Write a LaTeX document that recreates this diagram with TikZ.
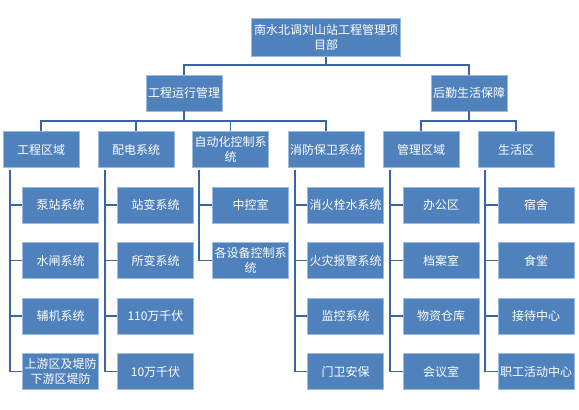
\documentclass[tikz,border=0pt]{standalone}
\usepackage{fontspec}
\newfontfamily\cjk{Noto Sans CJK SC}
\usetikzlibrary{calc,positioning}
\definecolor{boxblue}{RGB}{79,129,189}
\definecolor{boxedge}{RGB}{155,187,225}
\definecolor{linkblue}{RGB}{58,100,165}
\tikzset{
  box/.style  = {draw=boxedge, line width=0.6pt, fill=boxblue, text=white,
                 minimum width=57pt, minimum height=27pt, inner sep=1pt,
                 align=center, font=\cjk\fontsize{9}{11}\selectfont},
  wide/.style = {box, minimum width=112pt, minimum height=28pt},
  wire/.style = {draw=linkblue, line width=1.4pt},
}

\begin{document}
\begin{tikzpicture}[x=0.75pt,y=-0.75pt]
  \useasboundingbox (0,0) rectangle (579,410);
  % top and second level
  \node[wide] (xmb) at (326,37.5) {南水北调刘山站工程管理项\\目部};
  \node[box] (yxgl) at (184,93) {工程运行管理};
  \node[box] (hqbz) at (469,93) {后勤生活保障};
  % third level
  \node[box] (gcqy) at (41,149.5)    {工程区域};
  \node[box] (pdxt) at (136,149.5)   {配电系统};
  \node[box] (zdh)  at (230.5,149.5) {自动化控制系\\统};
  \node[box] (xfbw) at (326,149.5)   {消防保卫系统};
  \node[box] (glqy) at (421,149.5)   {管理区域};
  \node[box] (shq)  at (516,149.5)   {生活区};
  % fourth level
  \foreach \t [count=\i] in {泵站系统,水闸系统,辅机系统,{上游区及堤防\\下游区堤防}}
    \node[box] (gcqy\i) at (60.5,149.5+55.5*\i) {\t};
  \foreach \t [count=\i] in {站变系统,所变系统,110万千伏,10万千伏}
    \node[box] (pdxt\i) at (155.5,149.5+55.5*\i) {\t};
  \foreach \t [count=\i] in {中控室,{各设备控制系\\统}}
    \node[box] (zdh\i) at (250.5,149.5+55.5*\i) {\t};
  \foreach \t [count=\i] in {消火栓水系统,火灾报警系统,监控系统,门卫安保}
    \node[box] (xfbw\i) at (345.5,149.5+55.5*\i) {\t};
  \foreach \t [count=\i] in {办公区,档案室,物资仓库,会议室}
    \node[box] (glqy\i) at (441,149.5+55.5*\i) {\t};
  \foreach \t [count=\i] in {宿舍,食堂,接待中心,职工活动中心}
    \node[box] (shq\i) at (536,149.5+55.5*\i) {\t};

  % buses
  \coordinate (bus0) at (326,65);
  \coordinate (busa) at (184,121);
  \coordinate (busb) at (469,121);
  \draw[wire] (xmb.south) -- (bus0);
  \draw[wire] (yxgl.north) |- (bus0) -| (hqbz.north);
  \draw[wire] (yxgl.south) -- (busa);
  \draw[wire] (hqbz.south) -- (busb);
  \draw[wire] (gcqy.north) |- (busa) -| (xfbw.north);
  \draw[wire] (pdxt.north) -- (pdxt.north |- busa);
  \draw[wire] (zdh.north) -- (zdh.north |- busa);
  \draw[wire] (glqy.north) |- (busb) -| (shq.north);
  % side links
  \foreach \p/\n in {gcqy/4,pdxt/4,zdh/2,xfbw/4,glqy/4,shq/4}
    \foreach \i in {1,...,\n}
      \draw[wire] ($(\p.south west)+(7,2)$) |- (\p\i.west);
\end{tikzpicture}
\end{document}
